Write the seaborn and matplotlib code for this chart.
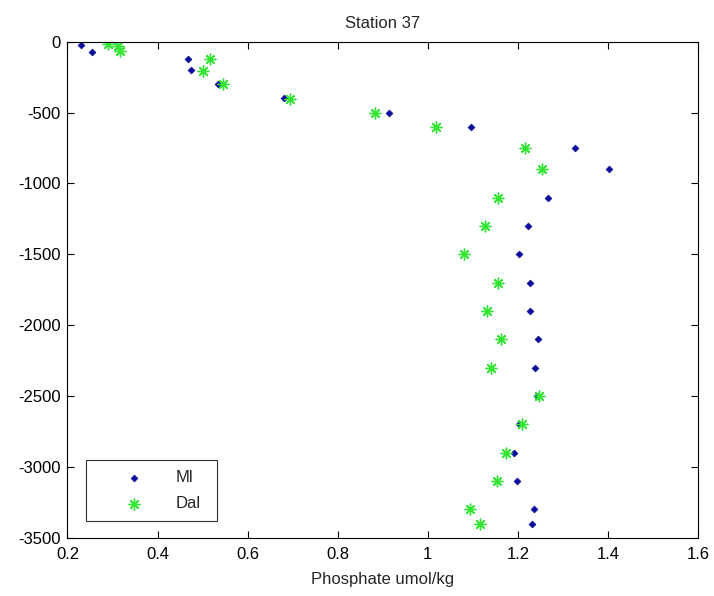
import numpy as np
import pandas as pd
import matplotlib
matplotlib.use("Agg")
import matplotlib.pyplot as plt
from matplotlib.ticker import FuncFormatter
import seaborn as sns

# Ml samples
ml_phosphate = [0.230, 0.255, 0.467, 0.474, 0.535, 0.680, 0.915, 1.096, 1.326, 1.402,
                1.268, 1.222, 1.203, 1.228, 1.228, 1.244, 1.238, 1.243, 1.203, 1.191,
                1.199, 1.235, 1.232]
ml_depth = [-20, -70, -125, -200, -300, -400, -500, -600, -750, -900,
            -1100, -1300, -1500, -1700, -1900, -2100, -2300, -2500, -2700, -2900,
            -3100, -3300, -3400]

# Dal samples
dal_phosphate = [0.291, 0.313, 0.317, 0.517, 0.500, 0.545, 0.693, 0.883, 1.019, 1.215,
                 1.254, 1.157, 1.126, 1.080, 1.157, 1.131, 1.163, 1.141, 1.248, 1.210,
                 1.173, 1.154, 1.093, 1.115]
dal_depth = [-15, -30, -65, -125, -205, -300, -405, -500, -600, -750,
             -900, -1100, -1300, -1500, -1700, -1900, -2100, -2300, -2500, -2700,
             -2900, -3100, -3300, -3400]

x_ticks = [0.2, 0.4, 0.6, 0.8, 1.0, 1.2, 1.4, 1.6]
y_ticks = [0, -500, -1000, -1500, -2000, -2500, -3000, -3500]

ml = pd.DataFrame({"Phosphate": ml_phosphate, "Depth": ml_depth})
dal = pd.DataFrame({"Phosphate": dal_phosphate, "Depth": dal_depth})

sns.set_style("ticks")
plt.rcParams['font.family'] = ['Liberation Sans', 'DejaVu Sans']
plt.rcParams['axes.unicode_minus'] = False

fig = plt.figure(figsize=(7.14, 5.96), dpi=100)
ax = fig.add_axes([0.0945, 0.0978, 0.8831, 0.8322])

sns.scatterplot(data=ml, x="Phosphate", y="Depth", ax=ax, marker="D", s=12,
                color="#0a0a9c", edgecolor="#0a0a9c", linewidth=0.5, label="Ml")
sns.scatterplot(data=dal, x="Phosphate", y="Depth", ax=ax, marker=(8, 2, 0), s=60,
                color="#33e633", linewidth=1.0, label="Dal")

ax.set_xlim(0.2, 1.6)
ax.set_ylim(-3500, 0)
ax.set_xticks(x_ticks)
ax.set_yticks(y_ticks)
ax.xaxis.set_major_formatter(FuncFormatter(lambda v, p: "%g" % round(v, 2)))
ax.yaxis.set_major_formatter(FuncFormatter(lambda v, p: "%g" % v))
ax.tick_params(direction="in", length=5, width=0.8, top=True, right=True,
               labelsize=12, colors="black", pad=5)
ax.tick_params(axis="x", pad=7)
for s in ax.spines.values():
    s.set_visible(True)
    s.set_linewidth(0.8)
    s.set_color("black")

ax.set_title("Station 37", fontsize=12, pad=10)
ax.set_xlabel("Phosphate umol/kg", fontsize=12, labelpad=7)
ax.set_ylabel("")

leg = ax.legend(loc="lower left", bbox_to_anchor=(0.0293, 0.0337, 0.2083, 0.12),
                mode="expand", fontsize=12, frameon=True, fancybox=False,
                edgecolor="black", borderpad=0.58, handletextpad=0.26,
                borderaxespad=0, handlelength=4.55, labelspacing=0.68)
leg.get_frame().set_linewidth(0.8)

fig.savefig("out.png", dpi=100, facecolor="white")
